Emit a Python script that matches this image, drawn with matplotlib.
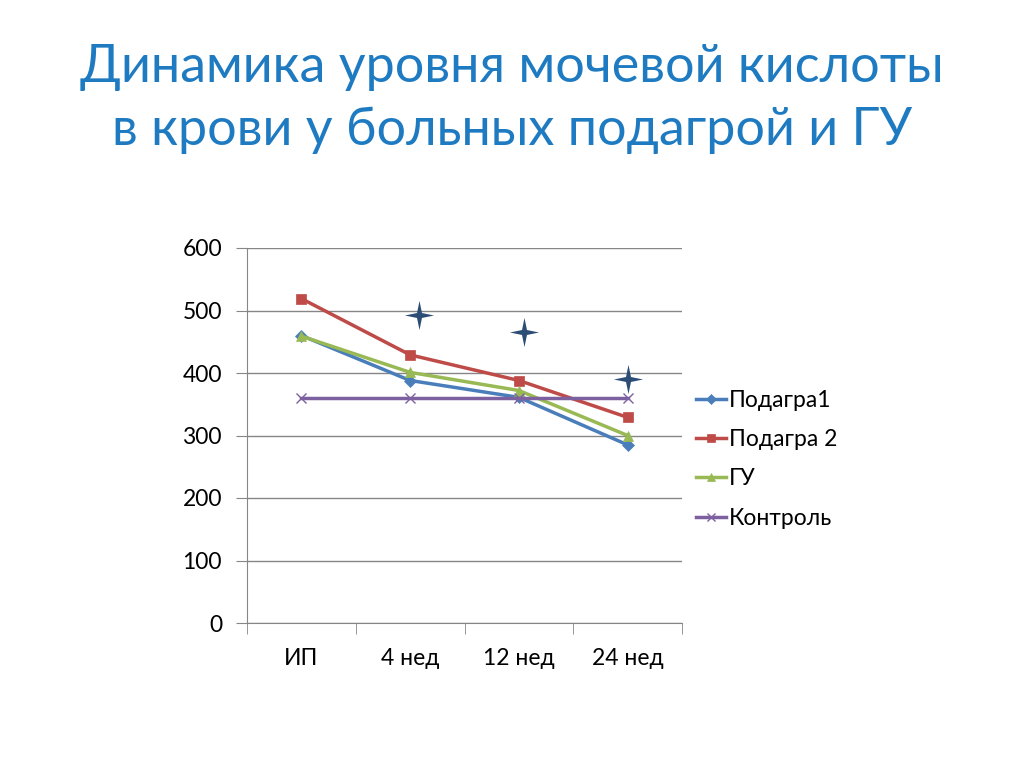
import matplotlib
matplotlib.use("Agg")
import matplotlib.pyplot as plt
import numpy as np
from matplotlib.path import Path

plt.rcParams['font.family'] = ['Lato', 'DejaVu Sans']

title = "Динамика уровня мочевой кислоты\nв крови у больных подагрой и ГУ"
categories = ["ИП", "4 нед", "12 нед", "24 нед"]
podagra1 = [460, 388, 361, 285]
podagra2 = [519, 429, 388, 329]
gu = [459, 401, 372, 300]
control = [360, 360, 360, 360]
series_names = ["Подагра1", "Подагра 2", "ГУ", "Контроль"]
star_cat = [1.08, 2.05, 3.0]
star_y = [493, 466, 390]
yticks = [0, 100, 200, 300, 400, 500, 600]

fig = plt.figure(figsize=(10.24, 7.68), dpi=100)
ax = fig.add_axes([247/1024, 1-623/768, (682-247)/1024, (623-248)/768])

x = np.arange(len(categories))
styles = [
    (podagra1, "#4A7EBB", "D", 6),
    (podagra2, "#BE4B48", "s", 7),
    (gu, "#98B954", "^", 7),
    (control, "#7D60A0", "x", 7),
]
for (vals, col, mk, ms), name in zip(styles, series_names):
    ax.plot(x, vals, color=col, lw=2.5, marker=mk, markersize=ms,
            markeredgewidth=1.0 if mk == "x" else 0.5, markeredgecolor=col,
            markerfacecolor=col, label=name, zorder=3)

# 4-point star marker
r_out, r_in = 1.0, 0.24
verts = []
for k in range(8):
    ang = np.pi/2 + k*np.pi/4
    r = r_out if k % 2 == 0 else r_in
    verts.append((r*np.cos(ang), r*np.sin(ang)))
verts.append(verts[0])
star = Path(verts, [Path.MOVETO] + [Path.LINETO]*7 + [Path.CLOSEPOLY])
ax.plot(star_cat, star_y, linestyle="none", marker=star, markersize=21,
        color="#2C4D75", markeredgewidth=0, zorder=4)

ax.set_xlim(-0.5, 3.5)
ax.set_ylim(0, 600)
ax.set_yticks(yticks)
ax.set_xticks(x)
ax.set_xticklabels(categories)
ax.set_xticks(np.arange(-0.5, 3.6, 1.0), minor=True)
ax.tick_params(axis="x", which="major", length=0, pad=18, labelsize=16.5)
ax.tick_params(axis="x", which="minor", length=8, color="#868686", direction="out")
ax.tick_params(axis="y", length=8, color="#868686", direction="out", labelsize=16.5, pad=10)
ax.grid(axis="y", color="#868686", lw=1)
ax.set_axisbelow(True)
for s in ["top", "right"]:
    ax.spines[s].set_visible(False)
for s in ["left", "bottom"]:
    ax.spines[s].set_color("#868686")

leg = ax.legend(loc="center left", bbox_to_anchor=(1.0, 0.437), frameon=False,
                fontsize=16.5, handlelength=1.3, handletextpad=0.15, labelspacing=0.8,
                borderaxespad=0.2, markerscale=0.8)

fig.text(0.5, 1-99/768, title, ha="center", va="center", fontsize=37.5,
         color="#1F7BC1", linespacing=1.4)

fig.savefig("out.png", dpi=100)
